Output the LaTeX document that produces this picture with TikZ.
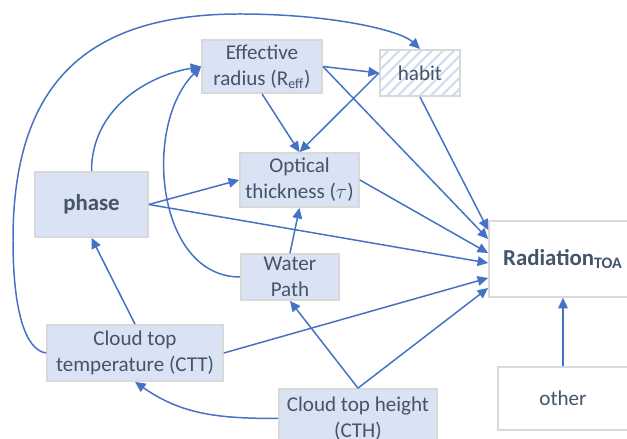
\documentclass[tikz,border=0pt]{standalone}
\usepackage{fontspec}
\setmainfont{Carlito}
\usepackage{xcolor}
\usetikzlibrary{calc,arrows.meta,patterns.meta}
\definecolor{ink}{HTML}{44546A}
\definecolor{boxfill}{HTML}{DAE3F3}
\definecolor{boxline}{HTML}{D9D9D9}
\definecolor{link}{HTML}{4472C4}
\definecolor{stripe}{HTML}{D0DCF0}
\tikzset{
  box/.style={draw=boxline, line width=1pt, fill=boxfill, text=ink, align=center, inner sep=0pt, font=\fontsize{12}{14.8}\selectfont},
  plain/.style={box, fill=white},
  hatched/.style={box, fill=none, pattern={Lines[angle=45,distance=4.4pt,line width=1.2pt]}, pattern color=stripe},
  strong/.style={font=\fontsize{13}{16}\selectfont\bfseries},
  arr/.style={draw=link, line width=0.85pt, line join=round, -{Triangle[length=6pt,width=5.5pt]}},
}

\begin{document}
\begin{tikzpicture}[x=0.02cm, y=0.02cm]
  \useasboundingbox (0,0) rectangle (627,439);
  \clip (0,0) rectangle (627,439);

  \node[box, minimum width=2.4cm, minimum height=1.06cm] (reff) at (262,372.5) {Effective\\radius (R\textsubscript{eff})};
  \node[hatched, minimum width=1.6cm, minimum height=0.92cm] (habit) at (420,366) {habit};
  \node[box, minimum width=2.38cm, minimum height=1.08cm] (tau) at (299.5,259) {Optical\\thickness ($\tau$)};
  \node[box, strong, minimum width=2.26cm, minimum height=1.3cm] (phase) at (91.5,234.5) {phase};
  \node[box, minimum width=1.96cm, minimum height=0.92cm] (wp) at (290,162) {Water\\Path};
  \node[plain, strong, minimum width=2.96cm, minimum height=1.52cm] (rad) at (563,180) {Radiation\textsubscript{TOA}};
  \node[plain, minimum width=2.6cm, minimum height=1.26cm] (other) at (563,40.5) {other};
  \node[box, minimum width=3.52cm, minimum height=1.12cm] (ctt) at (135,86) {Cloud top\\temperature (CTT)};
  \node[box, minimum width=3.16cm, minimum height=1.18cm] (cth) at (358,20.5) {Cloud top height\\(CTH)};

  % long way round from CTT up to habit
  \draw[arr] (ctt.west) .. controls (25,89) and (13,129) .. (13,199)
    .. controls (13,359) and (90,425) .. (240,425)
    .. controls (330,425) and (400,409) .. (habit.north);

  \draw[arr] (phase.north) to[out=90, in=190] (reff.west);
  \draw[arr] (wp.west) to[out=180, in=225] (reff.west);
  \draw[arr] (reff.east) -- (habit.west);
  \draw[arr] (reff.south) -- (tau.north);
  \draw[arr] (habit.west) -- (tau.north);
  \draw[arr] (phase.east) -- (tau.west);
  \draw[arr] (wp.north) -- (tau.south);
  \draw[arr] (ctt.north) -- (phase.south);
  \draw[arr] (cth.north) -- (wp.south);
  \draw[arr] (cth.west) to[out=180, in=-35] (ctt.south);

  % everything into the radiation box
  \draw[arr] (habit.south) -- ($(rad.west)+(0,29)$);
  \draw[arr] (reff.east) -- ($(rad.west)+(0,20)$);
  \draw[arr] (tau.east) -- ($(rad.west)+(0,6)$);
  \draw[arr] (phase.east) -- ($(rad.west)+(0,-4)$);
  \draw[arr] (ctt.east) -- ($(rad.west)+(0,-19)$);
  \draw[arr] (cth.north) -- ($(rad.west)+(0,-29)$);
  \draw[arr] (other.north) -- (rad.south);
\end{tikzpicture}
\end{document}
